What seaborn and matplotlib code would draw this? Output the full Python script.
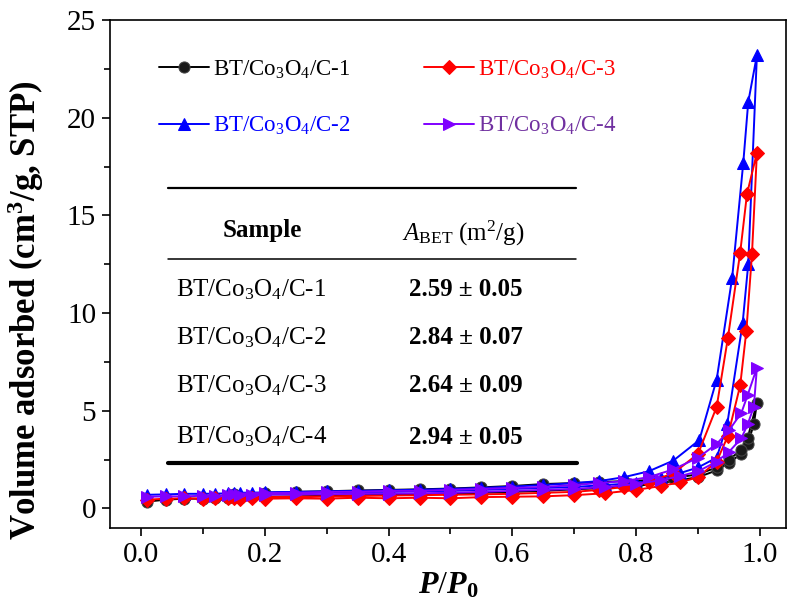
import numpy as np
import pandas as pd
import matplotlib
matplotlib.use("Agg")
import matplotlib.pyplot as plt
import seaborn as sns
from matplotlib.ticker import MultipleLocator

# ---------------- data ----------------
labels = ["BT/Co$_3$O$_4$/C-1", "BT/Co$_3$O$_4$/C-2", "BT/Co$_3$O$_4$/C-3", "BT/Co$_3$O$_4$/C-4"]

c1_ads_x = [0.01, 0.04, 0.07, 0.10, 0.12, 0.14, 0.16, 0.18, 0.20, 0.25, 0.30, 0.35, 0.40, 0.45, 0.50,
            0.55, 0.60, 0.65, 0.70, 0.75, 0.80, 0.84, 0.87, 0.90, 0.93, 0.95, 0.97, 0.98, 0.99, 0.995]
c1_ads_y = [0.35, 0.45, 0.50, 0.50, 0.52, 0.55, 0.55, 0.58, 0.60, 0.62, 0.65, 0.68, 0.70, 0.72, 0.75,
            0.80, 0.85, 0.90, 0.98, 1.05, 1.15, 1.30, 1.45, 1.60, 1.95, 2.35, 2.80, 3.30, 4.30, 5.40]
c1_des_x = [0.98, 0.97, 0.95, 0.93, 0.90, 0.86, 0.82, 0.78, 0.74, 0.70, 0.65, 0.60, 0.55, 0.50,
            0.45, 0.40, 0.35, 0.30, 0.25, 0.20, 0.15]
c1_des_y = [3.60, 3.00, 2.50, 2.10, 1.75, 1.55, 1.45, 1.40, 1.35, 1.30, 1.25, 1.15, 1.08, 1.02,
            0.98, 0.95, 0.92, 0.88, 0.85, 0.80, 0.75]

c2_ads_x = [0.01, 0.04, 0.07, 0.10, 0.12, 0.14, 0.16, 0.18, 0.20, 0.25, 0.30, 0.35, 0.40, 0.45, 0.50,
            0.55, 0.60, 0.65, 0.70, 0.75, 0.80, 0.84, 0.87, 0.90, 0.93, 0.947, 0.972, 0.981, 0.995]
c2_ads_y = [0.70, 0.72, 0.75, 0.75, 0.76, 0.77, 0.78, 0.78, 0.80, 0.80, 0.82, 0.84, 0.85, 0.88, 0.90,
            0.95, 1.00, 1.05, 1.10, 1.20, 1.30, 1.55, 1.80, 2.10, 2.60, 4.30, 9.50, 12.50, 23.20]
c2_des_x = [0.981, 0.973, 0.955, 0.93, 0.902, 0.86, 0.82, 0.78, 0.74, 0.70, 0.65, 0.60, 0.55, 0.50,
            0.45, 0.40, 0.35, 0.30, 0.25, 0.20, 0.15]
c2_des_y = [20.80, 17.70, 11.80, 6.60, 3.50, 2.45, 1.90, 1.60, 1.40, 1.30, 1.20, 1.12, 1.05, 1.00,
            0.96, 0.93, 0.90, 0.88, 0.85, 0.82, 0.80]

c3_ads_x = [0.01, 0.04, 0.07, 0.10, 0.12, 0.14, 0.16, 0.18, 0.20, 0.25, 0.30, 0.35, 0.40, 0.45, 0.50,
            0.55, 0.60, 0.65, 0.70, 0.75, 0.80, 0.84, 0.87, 0.90, 0.93, 0.948, 0.968, 0.978, 0.987, 0.995]
c3_ads_y = [0.45, 0.50, 0.52, 0.50, 0.52, 0.53, 0.50, 0.52, 0.50, 0.52, 0.50, 0.55, 0.52, 0.55, 0.52,
            0.58, 0.60, 0.62, 0.68, 0.78, 0.95, 1.15, 1.33, 1.60, 2.40, 3.70, 6.30, 9.10, 13.00, 18.20]
c3_des_x = [0.979, 0.968, 0.948, 0.93, 0.90, 0.86, 0.82, 0.78, 0.74, 0.70, 0.65, 0.60, 0.55, 0.50,
            0.45, 0.40, 0.35, 0.30, 0.25, 0.20, 0.15]
c3_des_y = [16.10, 13.10, 8.70, 5.20, 2.80, 1.80, 1.35, 1.10, 0.95, 0.85, 0.80, 0.75, 0.72, 0.70,
            0.68, 0.66, 0.64, 0.62, 0.60, 0.58, 0.56]

c4_ads_x = [0.01, 0.04, 0.07, 0.10, 0.12, 0.14, 0.16, 0.18, 0.20, 0.25, 0.30, 0.35, 0.40, 0.45, 0.50,
            0.55, 0.60, 0.65, 0.70, 0.75, 0.80, 0.84, 0.87, 0.90, 0.93, 0.95, 0.97, 0.98, 0.99, 0.995]
c4_ads_y = [0.60, 0.62, 0.62, 0.65, 0.66, 0.67, 0.68, 0.70, 0.70, 0.72, 0.73, 0.75, 0.76, 0.78, 0.80,
            0.85, 0.90, 0.95, 1.00, 1.10, 1.25, 1.45, 1.65, 1.90, 2.40, 2.90, 3.60, 4.30, 5.20, 7.20]
c4_des_x = [0.98, 0.97, 0.95, 0.93, 0.90, 0.86, 0.82, 0.78, 0.74, 0.70, 0.65, 0.60, 0.55, 0.50,
            0.45, 0.40, 0.35, 0.30, 0.25, 0.20, 0.15]
c4_des_y = [5.80, 4.90, 4.00, 3.30, 2.60, 2.00, 1.60, 1.40, 1.30, 1.20, 1.10, 1.05, 1.00, 0.95,
            0.90, 0.90, 0.85, 0.85, 0.80, 0.80, 0.75]

table_samples = ["BT/Co$_3$O$_4$/C-1", "BT/Co$_3$O$_4$/C-2", "BT/Co$_3$O$_4$/C-3", "BT/Co$_3$O$_4$/C-4"]
table_values = ["2.59 \u00b1 0.05", "2.84 \u00b1 0.07", "2.64 \u00b1 0.09", "2.94 \u00b1 0.05"]

xticks = [0.0, 0.2, 0.4, 0.6, 0.8, 1.0]
yticks = [0, 5, 10, 15, 20, 25]

# ---------------- style ----------------
sns.set_theme(style="ticks")
plt.rcParams["font.family"] = ["Liberation Serif", "DejaVu Serif"]
plt.rcParams["mathtext.fontset"] = "custom"
plt.rcParams["mathtext.rm"] = "Liberation Serif"
plt.rcParams["mathtext.it"] = "Liberation Serif:italic"
plt.rcParams["mathtext.bf"] = "Liberation Serif:bold"
plt.rcParams["mathtext.bfit"] = "Liberation Serif:italic:bold"
plt.rcParams["text.color"] = "black"
plt.rcParams["axes.labelcolor"] = "black"
plt.rcParams["xtick.color"] = "black"
plt.rcParams["ytick.color"] = "black"

fig = plt.figure(figsize=(7.92, 6.08), dpi=100)
ax = fig.add_axes([110/792, 1-528/608, 676/792, 508/608])

series = [
    (c1_ads_x + c1_des_x, c1_ads_y + c1_des_y, "#000000", "o", "#000000"),
    (c2_ads_x + c2_des_x, c2_ads_y + c2_des_y, "#0000ff", "^", "#0000ff"),
    (c3_ads_x + c3_des_x, c3_ads_y + c3_des_y, "#ff0000", "D", "#ff0000"),
    (c4_ads_x + c4_des_x, c4_ads_y + c4_des_y, "#8000ff", ">", "#7030a0"),
]
text_colors = []
for (xs, ys, col, mk, tcol), lab in zip(series, labels):
    df = pd.DataFrame({"x": xs, "y": ys})
    if mk == "o":
        ms, mec, mfc = 8, "#444444", "#1a1a1a"
    elif mk == "D":
        ms, mec, mfc = 7, col, col
    else:
        ms, mec, mfc = 9, col, col
    sns.lineplot(data=df, x="x", y="y", sort=False, estimator=None, ax=ax,
                 color=col, marker=mk, markersize=ms, markeredgecolor=mec,
                 markerfacecolor=mfc, linewidth=1.4, label=lab)
    text_colors.append(tcol)

ax.set_xlim(-0.05, 1.042)
ax.set_ylim(-1.0, 25)
ax.set_xticks(xticks)
ax.set_xticklabels([f"{v:.1f}" for v in xticks])
ax.set_yticks(yticks)
ax.xaxis.set_minor_locator(MultipleLocator(0.1))
ax.yaxis.set_minor_locator(MultipleLocator(2.5))
ax.tick_params(axis="both", which="major", direction="out", length=6, width=1.2,
               labelsize=21, colors="black", pad=4)
ax.tick_params(axis="both", which="minor", direction="out", length=4, width=1.2)
for s in ax.spines.values():
    s.set_visible(True)
    s.set_linewidth(1.2)
    s.set_color("black")
ax.grid(False)

ax.set_xlabel(r"$\mathbfit{P}/\mathbfit{P}_{\mathbf{0}}$", fontsize=23, labelpad=2)
ax.set_ylabel(r"Volume adsorbed (cm$^{\mathbf{3}}$/g, STP)", fontsize=25, fontweight="bold")
ax.yaxis.set_label_coords(-(110 - 46) / 676, (528 - 310) / 508)

leg = ax.legend(loc="upper left", bbox_to_anchor=(0.042, 0.965), ncol=2, frameon=False,
                fontsize=16.5, handlelength=2.2, handletextpad=0.15, labelspacing=1.5,
                columnspacing=3.2)
for t, c in zip(leg.get_texts(), text_colors):
    t.set_color(c)

# ---------------- inset table ----------------
def fx(px):
    return (px - 110) / 676

def fy(py):
    return (528 - py) / 508

tr = ax.transAxes
ax.plot([fx(168), fx(576)], [fy(188), fy(188)], transform=tr, color="black", lw=1.6, clip_on=False)
ax.plot([fx(168), fx(576)], [fy(259), fy(259)], transform=tr, color="black", lw=1.1, clip_on=False)
ax.plot([fx(168), fx(577)], [fy(463), fy(463)], transform=tr, color="black", lw=3.0, clip_on=False)
ax.text(fx(262), fy(231), "Sample", transform=tr, ha="center", va="center", fontsize=18, fontweight="bold")
ax.text(fx(463), fy(233), r"$A_{\mathrm{BET}}$ (m$^2$/g)", transform=tr, ha="center", va="center", fontsize=18)
row_y = [290, 338, 386, 437]
for name, val, py in zip(table_samples, table_values, row_y):
    ax.text(fx(176), fy(py), name, transform=tr, ha="left", va="center", fontsize=18)
    ax.text(fx(466), fy(py), val, transform=tr, ha="center", va="center", fontsize=18, fontweight="bold")

fig.savefig("out.png", dpi=100)
